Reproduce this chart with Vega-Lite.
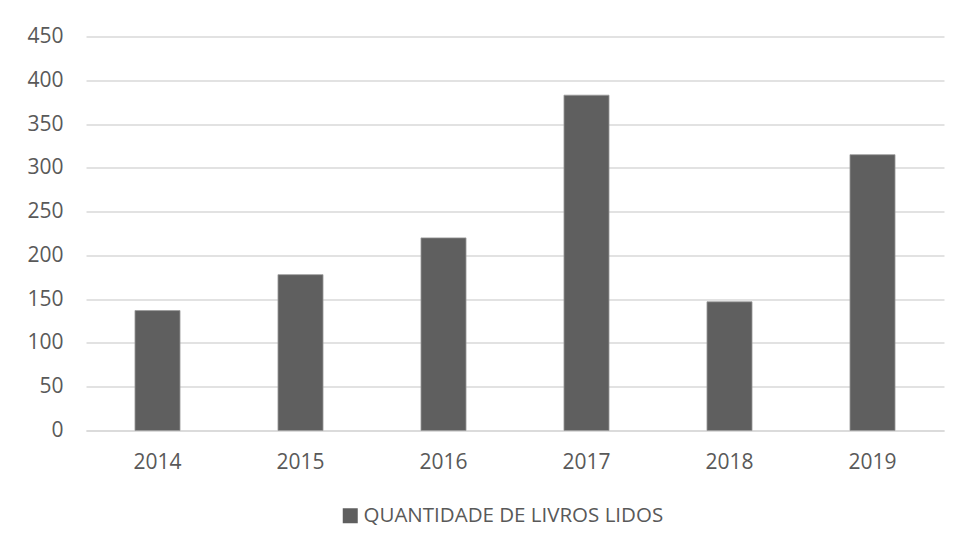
{
  "$schema": "https://vega.github.io/schema/vega-lite/v6.json",
  "width": 858,
  "height": 394,
  "autosize": "none",
  "padding": {"left": 86, "top": 36.5, "right": 19, "bottom": 119.5},
  "background": "white",
  "data": {"values": [
    {"ano": "2014", "livros": 137, "serie": "QUANTIDADE DE LIVROS LIDOS"},
    {"ano": "2015", "livros": 178, "serie": "QUANTIDADE DE LIVROS LIDOS"},
    {"ano": "2016", "livros": 220, "serie": "QUANTIDADE DE LIVROS LIDOS"},
    {"ano": "2017", "livros": 383, "serie": "QUANTIDADE DE LIVROS LIDOS"},
    {"ano": "2018", "livros": 147, "serie": "QUANTIDADE DE LIVROS LIDOS"},
    {"ano": "2019", "livros": 315, "serie": "QUANTIDADE DE LIVROS LIDOS"}
  ]},
  "mark": {"type": "bar", "stroke": "#9a9a9a", "strokeWidth": 0.8},
  "encoding": {
    "x": {
      "field": "ano", "type": "ordinal",
      "scale": {"paddingInner": 0.685, "paddingOuter": 0.3425},
      "axis": {"title": null, "labelAngle": 0, "ticks": false, "domain": true, "domainColor": "#d9d9d9", "domainWidth": 1.3, "labelPadding": 21, "grid": false}
    },
    "y": {
      "field": "livros", "type": "quantitative",
      "scale": {"domain": [0, 450], "nice": false},
      "axis": {"title": null, "values": [0, 50, 100, 150, 200, 250, 300, 350, 400, 450], "ticks": false, "domain": false, "labelPadding": 23, "gridColor": "#d9d9d9", "gridWidth": 1.3}
    },
    "color": {
      "field": "serie", "type": "nominal",
      "scale": {"range": ["#5f5f5f"]},
      "legend": {"title": null, "orient": "none", "legendX": 254, "legendY": 469, "symbolType": "square", "symbolSize": 225, "symbolStrokeWidth": 0, "labelOffset": 3}
    }
  },
  "config": {
    "view": {"stroke": null},
    "font": "Open Sans",
    "axis": {"labelFont": "Open Sans", "labelFontSize": 21, "labelColor": "#595959"},
    "legend": {"labelFont": "Open Sans", "labelFontSize": 20.5, "labelColor": "#595959", "labelLimit": 600}
  }
}
